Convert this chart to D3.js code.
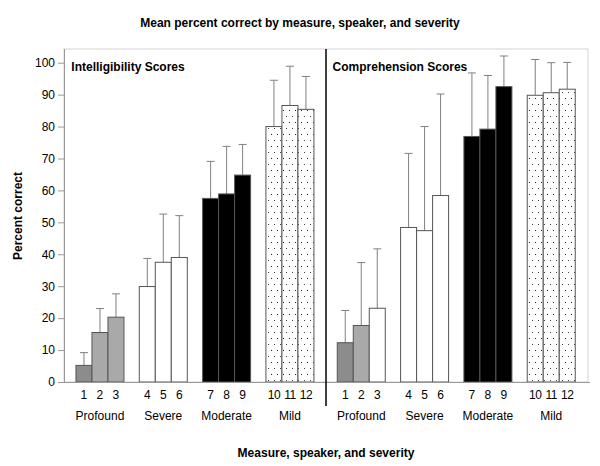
<!DOCTYPE html>
<html>
<head>
<meta charset="utf-8">
<script src="https://d3js.org/d3.v7.min.js"></script>
<style>
  body { margin: 0; background: #fff; }
  text { font-family: "Liberation Sans", Arial, sans-serif; fill: #000; }
</style>
</head>
<body>
<script>

// severity groups, 3 speakers each
var severities = ["Profound", "Severe", "Moderate", "Mild"];
var speakers = ["1","2","3","4","5","6","7","8","9","10","11","12"];
var yTicks = [0, 10, 20, 30, 40, 50, 60, 70, 80, 90, 100];

// mean percent correct and SD (error bar length)
var intelMean = [5.2, 15.5, 20.3, 29.9, 37.5, 39.0, 57.5, 58.9, 64.8, 80.0, 86.6, 85.4];
var intelSD   = [4.0,  7.5,  7.3,  8.8, 15.1, 13.1, 11.6, 14.9,  9.6, 14.5, 12.3, 10.3];
var compMean  = [12.3, 17.7, 23.1, 48.4, 47.4, 58.4, 76.9, 79.2, 92.5, 89.8, 90.6, 91.7];
var compSD    = [10.1, 19.7, 18.6, 23.2, 32.6, 31.8, 19.9, 16.8,  9.6, 11.2,  9.4,  8.4];

var width = 600, height = 466;
var plot = {left: 64, right: 588, top: 49, bottom: 382};

var svg = d3.select("body").append("svg")
    .attr("width", width)
    .attr("height", height);

// dotted fill for the mild group (staggered rows)
var defs = svg.append("defs");
var pat = defs.append("pattern")
    .attr("id", "dots")
    .attr("patternUnits", "userSpaceOnUse")
    .attr("width", 6).attr("height", 12);
pat.append("rect").attr("width", 6).attr("height", 12).attr("fill", "#fff");
pat.append("rect").attr("x", 1).attr("y", 2).attr("width", 1).attr("height", 1).attr("fill", "#222");
pat.append("rect").attr("x", 4).attr("y", 8).attr("width", 1).attr("height", 1).attr("fill", "#444");

var y = d3.scaleLinear().domain([0, 100]).range([382, 62.7]);

// frame
svg.append("rect")
    .attr("x", plot.left).attr("y", plot.top)
    .attr("width", plot.right - plot.left).attr("height", plot.bottom - plot.top)
    .attr("fill", "none").attr("stroke", "#d4d4d4");

var yAxis = svg.append("g")
    .attr("transform", "translate(" + plot.left + ",0)")
    .call(d3.axisLeft(y).tickValues(yTicks).tickSize(6).tickPadding(3));
yAxis.select(".domain").remove();
yAxis.selectAll(".tick line").attr("stroke", "#999");
yAxis.selectAll(".tick text")
    .style("font-family", "Liberation Sans, Arial, sans-serif")
    .style("font-size", "12px").attr("fill", "#000");

svg.append("line")
    .attr("x1", plot.left + 0.5).attr("x2", plot.left + 0.5)
    .attr("y1", plot.top).attr("y2", plot.bottom)
    .attr("stroke", "#999");

function fillFor(panel, i) {
  var g = Math.floor(i / 3), k = i % 3;
  if (g === 0) {
    if (k === 0) return "#8c8c8c";
    if (panel === "comp" && k === 2) return "#fff";
    return "#a9a9a9";
  }
  if (g === 1) return "#fff";
  if (g === 2) return "#000";
  return "url(#dots)";
}

function drawPanel(panel, means, sds, range, label) {
  var x0 = d3.scaleBand().domain(severities).range(range)
      .paddingInner(0.242).paddingOuter(0.121);
  var x1 = d3.scaleBand().domain([0, 1, 2]).range([0, x0.bandwidth()]);

  var data = means.map(function(m, i) {
    return {i: i, sev: severities[Math.floor(i / 3)], k: i % 3, mean: m, sd: sds[i], name: speakers[i]};
  });
  var bx = function(d) { return x0(d.sev) + x1(d.k); };

  var g = svg.append("g");

  // error bars behind bars
  g.selectAll(".err").data(data).enter().append("line")
      .attr("x1", function(d) { return bx(d) + x1.bandwidth() / 2; })
      .attr("x2", function(d) { return bx(d) + x1.bandwidth() / 2; })
      .attr("y1", function(d) { return y(d.mean); })
      .attr("y2", function(d) { return y(d.mean + d.sd); })
      .attr("stroke", "#808080");
  g.selectAll(".cap").data(data).enter().append("line")
      .attr("x1", function(d) { return bx(d) + x1.bandwidth() / 2 - 4; })
      .attr("x2", function(d) { return bx(d) + x1.bandwidth() / 2 + 4; })
      .attr("y1", function(d) { return y(d.mean + d.sd); })
      .attr("y2", function(d) { return y(d.mean + d.sd); })
      .attr("stroke", "#808080");

  g.selectAll(".bar").data(data).enter().append("rect")
      .attr("x", bx)
      .attr("y", function(d) { return y(d.mean); })
      .attr("width", x1.bandwidth())
      .attr("height", function(d) { return y(0) - y(d.mean); })
      .attr("fill", function(d) { return fillFor(panel, d.i); })
      .attr("stroke", "#555")
      .attr("stroke-width", 1);

  g.selectAll(".num").data(data).enter().append("text")
      .attr("x", function(d) { return bx(d) + x1.bandwidth() / 2; })
      .attr("y", 399)
      .attr("text-anchor", "middle")
      .style("font-size", "12px")
      .style("letter-spacing", function(d) { return d.name.length > 1 ? "-0.5px" : null; })
      .text(function(d) { return d.name; });

  g.selectAll(".sev").data(severities).enter().append("text")
      .attr("x", function(d) { return x0(d) + x0.bandwidth() / 2; })
      .attr("y", 420)
      .attr("text-anchor", "middle")
      .style("font-size", "12px")
      .text(function(d) { return d; });

  g.append("text")
      .attr("x", range[0] + 3)
      .attr("y", 71)
      .style("font-size", "12px")
      .style("font-weight", "bold")
      .text(label);
}

drawPanel("intel", intelMean, intelSD, [68.3, 321.6], "Intelligibility Scores");
drawPanel("comp", compMean, compSD, [329.6, 582.9], "Comprehension Scores");

// baseline
svg.append("line")
    .attr("x1", plot.left).attr("x2", plot.right + 2)
    .attr("y1", y(0) + 0.5).attr("y2", y(0) + 0.5)
    .attr("stroke", "#999");

// divider between measures
svg.append("line")
    .attr("x1", 326).attr("x2", 326)
    .attr("y1", plot.top).attr("y2", 406)
    .attr("stroke", "#000").attr("stroke-width", 1.5);

svg.append("text")
    .attr("x", 300).attr("y", 27)
    .attr("text-anchor", "middle")
    .style("font-size", "12px").style("font-weight", "bold")
    .text("Mean percent correct by measure, speaker, and severity");

svg.append("text")
    .attr("x", (plot.left + plot.right) / 2).attr("y", 457)
    .attr("text-anchor", "middle")
    .style("font-size", "12px").style("font-weight", "bold")
    .text("Measure, speaker, and severity");

svg.append("text")
    .attr("transform", "translate(22," + 216 + ") rotate(-90)")
    .attr("text-anchor", "middle")
    .style("font-size", "12px").style("font-weight", "bold")
    .text("Percent correct");

</script>
</body>
</html>
